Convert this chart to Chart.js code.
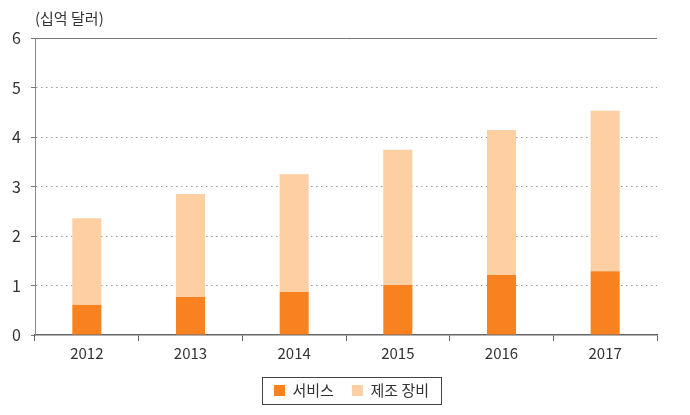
<!DOCTYPE html>
<html><head><meta charset="utf-8">
<script src="https://cdn.jsdelivr.net/npm/chart.js@4"></script>
<style>html,body{margin:0;padding:0;background:#fff}</style>
</head><body>
<canvas id="c" width="690" height="415"></canvas>
<script>
const categories = ['2012','2013','2014','2015','2016','2017'];
const services = [0.61, 0.77, 0.87, 1.01, 1.21, 1.29];
const equipment = [1.75, 2.08, 2.38, 2.73, 2.93, 3.24];
const yTicks = [0, 1, 2, 3, 4, 5, 6];
const seriesNames = ['서비스', '제조 장비'];
const unitLabel = '(십억 달러)';

const FONT = '"Noto Sans CJK KR", "Noto Sans", sans-serif';
const TXT = '#333333';

const extras = {
  id: 'extras',
  afterLayout(chart) {
    const lg = chart.legend;
    lg.left += 23; lg.right += 23;
  },
  afterDraw(chart) {
    const ctx = chart.ctx;
    const area = chart.chartArea;
    ctx.save();
    ctx.fillStyle = TXT;
    ctx.font = '15px ' + FONT;
    ctx.textBaseline = 'middle';
    ctx.textAlign = 'left';
    ctx.fillText(unitLabel, area.left, 18);
    const hb = chart.legend.legendHitBoxes;
    if (hb && hb.length) {
      let l = Infinity, r = -Infinity, t = Infinity, b = -Infinity;
      hb.forEach(h => { l = Math.min(l, h.left); r = Math.max(r, h.left + h.width); t = Math.min(t, h.top); b = Math.max(b, h.top + h.height); });
      ctx.strokeStyle = '#444';
      ctx.lineWidth = 1;
      ctx.strokeRect(Math.round(l - 12) + 0.5, Math.round(t - 6) + 0.5, Math.round(r - l + 24), Math.round(b - t + 12));
    }
    ctx.restore();
  }
};

new Chart(document.getElementById('c'), {
  type: 'bar',
  data: {
    labels: categories,
    datasets: [
      { label: seriesNames[0], data: services, backgroundColor: '#F7821F', borderWidth: 0, barPercentage: 0.28, categoryPercentage: 1 },
      { label: seriesNames[1], data: equipment, backgroundColor: '#FECFA2', borderWidth: 0, barPercentage: 0.28, categoryPercentage: 1 }
    ]
  },
  options: {
    responsive: false,
    animation: false,
    devicePixelRatio: 1,
    layout: { padding: { top: 38, right: 33, left: 0, bottom: 7 } },
    plugins: {
      tooltip: { enabled: false },
      legend: {
        position: 'bottom',
        labels: { font: { size: 15, family: FONT }, color: TXT, boxWidth: 11, boxHeight: 11, padding: 18 }
      }
    },
    scales: {
      x: {
        stacked: true,
        afterFit(s) { s.height = 30; },
        grid: { offset: true, drawOnChartArea: false, drawTicks: true, tickLength: 6, color: '#666', tickColor: '#666' },
        border: { color: '#666', width: 1.5 },
        ticks: { font: { size: 15, family: FONT }, color: TXT, padding: 3 }
      },
      y: {
        stacked: true,
        min: 0, max: 6,
        afterFit(s) { s.width = 35; },
        afterBuildTicks(s) { s.ticks = yTicks.map(v => ({ value: v })); },
        grid: {
          color: ctx => ctx.tick && ctx.tick.value === 6 ? '#777' : (ctx.tick && ctx.tick.value === 0 ? 'rgba(0,0,0,0)' : '#999'),
          tickColor: '#777',
          tickLength: 4,
          lineWidth: 1
        },
        border: { color: '#888', width: 1, dash: ctx => (ctx.tick && (ctx.tick.value === 6 || ctx.tick.value === 0)) ? [] : [1.5, 3.5] },
        ticks: { font: { size: 16, family: FONT }, color: TXT, padding: 10 }
      }
    }
  },
  plugins: [extras]
});
</script>
</body></html>
